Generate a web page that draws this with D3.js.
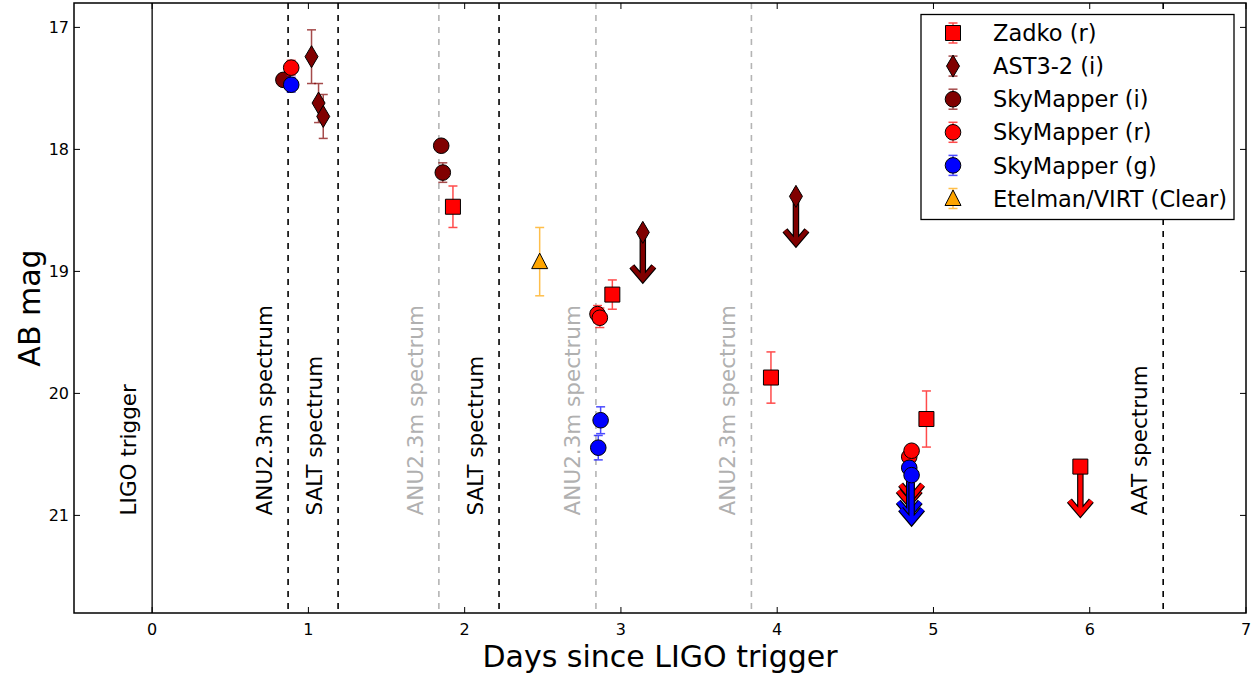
<!DOCTYPE html>
<html>
<head>
<meta charset="utf-8">
<script src="https://cdn.jsdelivr.net/npm/d3@7"></script>
<style>
  html, body { margin: 0; padding: 0; background: #fff; }
  svg { display: block; font-family: "DejaVu Sans", sans-serif; }
</style>
</head>
<body>
<svg id="chart" width="1256" height="677"></svg>
<script>
// ---------- data ----------
const xTicks = [0, 1, 2, 3, 4, 5, 6, 7];
const yTicks = [17, 18, 19, 20, 21];

// Zadko (r)
const zadkoX = [1.925, 2.945, 3.96, 4.955];
const zadkoY = [18.47, 19.19, 19.87, 20.21];
const zadkoE = [0.17, 0.12, 0.21, 0.23];
const zadkoLimX = [5.94];
const zadkoLimY = [20.60];

// AST3-2 (i)
const astX = [1.02, 1.065, 1.095];
const astY = [17.24, 17.62, 17.73];
const astE = [0.22, 0.16, 0.18];
const astLimX = [3.14, 4.12];
const astLimY = [18.68, 18.385];

// SkyMapper (i)
const smiX = [0.84, 1.85, 1.86];
const smiY = [17.43, 17.97, 18.19];
const smiE = [0.04, 0.04, 0.08];

// SkyMapper (r)
const smrX = [0.89, 2.85, 2.865];
const smrY = [17.33, 19.35, 19.38];
const smrE = [0.06, 0.07, 0.08];
const smrLimX = [4.845, 4.86];
const smrLimY = [20.52, 20.47];

// SkyMapper (g)
const smgX = [0.89, 2.87, 2.855];
const smgY = [17.47, 20.22, 20.445];
const smgE = [0.06, 0.11, 0.10];
const smgLimX = [4.845, 4.86];
const smgLimY = [20.61, 20.67];

// Etelman/VIRT (Clear)
const etX = [2.48];
const etY = [18.92];
const etE = [0.28];

// vertical event lines
const eventX =      [0,      0.87,               1.19,            1.835,              2.22,            2.84,               3.835,              6.47];
const eventLabel =  ["LIGO trigger", "ANU2.3m spectrum", "SALT spectrum", "ANU2.3m spectrum", "SALT spectrum", "ANU2.3m spectrum", "ANU2.3m spectrum", "AAT spectrum"];
const eventKind =   ["solid", "dash", "dash", "grey", "dash", "grey", "grey", "dash"];

const limitLength = 0.385; // arrow length in mag

// ---------- layout ----------
const L = 74, R = 1246, T = 3, B = 613;
const svg = d3.select("#chart");
const x = d3.scaleLinear().domain([-0.5, 7]).range([L, R]);
const y = d3.scaleLinear().domain([16.8, 21.8]).range([T, B]);

const series = [
  {name: "Zadko (r)", X: zadkoX, Y: zadkoY, E: zadkoE, LX: zadkoLimX, LY: zadkoLimY, color: "#ff0000", marker: "square"},
  {name: "AST3-2 (i)", X: astX, Y: astY, E: astE, LX: astLimX, LY: astLimY, color: "#800000", marker: "diamond"},
  {name: "SkyMapper (i)", X: smiX, Y: smiY, E: smiE, LX: [], LY: [], color: "#800000", marker: "circle"},
  {name: "SkyMapper (r)", X: smrX, Y: smrY, E: smrE, LX: smrLimX, LY: smrLimY, color: "#ff0000", marker: "circle"},
  {name: "SkyMapper (g)", X: smgX, Y: smgY, E: smgE, LX: smgLimX, LY: smgLimY, color: "#0000ff", marker: "circle"},
  {name: "Etelman/VIRT (Clear)", X: etX, Y: etY, E: etE, LX: [], LY: [], color: "#ffa500", marker: "triangle"}
];

function markerPath(type) {
  switch (type) {
    case "square": return "M-7.5,-7.5H7.5V7.5H-7.5Z";
    case "diamond": return "M0,-11L6.5,0L0,11L-6.5,0Z";
    case "triangle": return "M0,-8.5L8,7L-8,7Z";
    default: return d3.symbol(d3.symbolCircle, Math.PI * 7.8 * 7.8)();
  }
}

// ---------- clip ----------
svg.append("defs").append("clipPath").attr("id", "clip")
  .append("rect").attr("x", L).attr("y", T).attr("width", R - L).attr("height", B - T);

const plot = svg.append("g").attr("clip-path", "url(#clip)");

// event lines
eventX.forEach((ex, i) => {
  const kind = eventKind[i];
  const col = kind === "grey" ? "#b4b4b4" : "#000";
  plot.append("line")
    .attr("x1", x(ex)).attr("x2", x(ex)).attr("y1", T).attr("y2", B)
    .attr("stroke", col).attr("stroke-width", kind === "solid" ? 1.3 : 1.6)
    .attr("stroke-dasharray", kind === "solid" ? null : "6,6");
  plot.append("text")
    .attr("transform", `translate(${x(ex) - 16},${y(21)}) rotate(-90)`)
    .attr("font-size", 21.5)
    .attr("fill", kind === "grey" ? "#b0b0b0" : "#000")
    .attr("text-anchor", "start")
    .text(eventLabel[i]);
});

// data
series.forEach(s => {
  const g = plot.append("g");
  // error bars
  s.X.forEach((xv, i) => {
    const cx = x(xv), y1 = y(s.Y[i] - s.E[i]), y2 = y(s.Y[i] + s.E[i]);
    const eb = g.append("g").attr("stroke", s.color).attr("stroke-width", 1.5).attr("opacity", 0.7);
    eb.append("line").attr("x1", cx).attr("x2", cx).attr("y1", y1).attr("y2", y2);
    eb.append("line").attr("x1", cx - 4.5).attr("x2", cx + 4.5).attr("y1", y1).attr("y2", y1);
    eb.append("line").attr("x1", cx - 4.5).attr("x2", cx + 4.5).attr("y1", y2).attr("y2", y2);
  });
  // upper-limit arrows then their markers
  s.LX.forEach((xv, i) => {
    const cx = x(xv), y0 = y(s.LY[i]), tip = y(s.LY[i] + limitLength);
    const p = `M${cx},${y0}L${cx},${tip - 2}M${cx - 11},${tip - 13}L${cx},${tip}L${cx + 11},${tip - 13}`;
    g.append("path").attr("d", p).attr("fill", "none").attr("stroke", "#000")
      .attr("stroke-width", 6.5).attr("stroke-linejoin", "miter").attr("stroke-miterlimit", 10);
    g.append("path").attr("d", p).attr("fill", "none").attr("stroke", s.color)
      .attr("stroke-width", 4.2).attr("stroke-linejoin", "miter").attr("stroke-miterlimit", 10);
  });
  const allX = s.X.concat(s.LX), allY = s.Y.concat(s.LY);
  allX.forEach((xv, i) => {
    g.append("path").attr("d", markerPath(s.marker))
      .attr("transform", `translate(${x(xv)},${y(allY[i])})`)
      .attr("fill", s.color).attr("stroke", "#000").attr("stroke-width", 1);
  });
});

// ---------- axes frame and ticks ----------
const ax = svg.append("g");
ax.append("rect").attr("x", L).attr("y", T).attr("width", R - L).attr("height", B - T)
  .attr("fill", "none").attr("stroke", "#000").attr("stroke-width", 1.5);

const tl = 6;
xTicks.forEach(t => {
  const px = x(t);
  ax.append("line").attr("x1", px).attr("x2", px).attr("y1", B).attr("y2", B - tl).attr("stroke", "#000");
  ax.append("line").attr("x1", px).attr("x2", px).attr("y1", T).attr("y2", T + tl).attr("stroke", "#000");
  ax.append("text").attr("x", px).attr("y", B + 22).attr("text-anchor", "middle")
    .attr("font-size", 16).text(t);
});
yTicks.forEach(t => {
  const py = y(t);
  ax.append("line").attr("x1", L).attr("x2", L + tl).attr("y1", py).attr("y2", py).attr("stroke", "#000");
  ax.append("line").attr("x1", R).attr("x2", R - tl).attr("y1", py).attr("y2", py).attr("stroke", "#000");
  ax.append("text").attr("x", L - 5).attr("y", py).attr("dy", "0.35em").attr("text-anchor", "end")
    .attr("font-size", 16).text(t);
});

svg.append("text").attr("x", (L + R) / 2).attr("y", 667).attr("text-anchor", "middle")
  .attr("font-size", 30).text("Days since LIGO trigger");
svg.append("text").attr("transform", `translate(40,${(T + B) / 2}) rotate(-90)`)
  .attr("text-anchor", "middle").attr("font-size", 30).text("AB mag");

// ---------- legend ----------
const lg = svg.append("g");
lg.append("rect").attr("x", 921).attr("y", 14.5).attr("width", 313).attr("height", 205)
  .attr("fill", "#fff").attr("stroke", "#000").attr("stroke-width", 1.3);
series.forEach((s, i) => {
  const cy = 33 + i * 33.1, cx = 953;
  const eb = lg.append("g").attr("stroke", s.color).attr("stroke-width", 1.5).attr("opacity", 0.7);
  eb.append("line").attr("x1", cx).attr("x2", cx).attr("y1", cy - 10).attr("y2", cy + 10);
  eb.append("line").attr("x1", cx - 4.5).attr("x2", cx + 4.5).attr("y1", cy - 10).attr("y2", cy - 10);
  eb.append("line").attr("x1", cx - 4.5).attr("x2", cx + 4.5).attr("y1", cy + 10).attr("y2", cy + 10);
  lg.append("path").attr("d", markerPath(s.marker)).attr("transform", `translate(${cx},${cy})`)
    .attr("fill", s.color).attr("stroke", "#000").attr("stroke-width", 1);
  lg.append("text").attr("x", 993).attr("y", cy).attr("dy", "0.36em").attr("font-size", 22.5).text(s.name);
});
</script>
</body>
</html>
